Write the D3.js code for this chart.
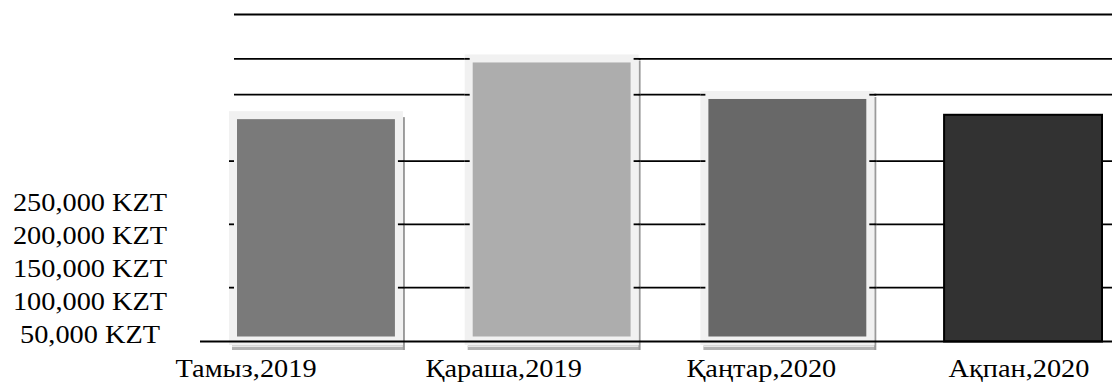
<!DOCTYPE html>
<html>
<head>
<meta charset="utf-8">
<script src="https://cdn.jsdelivr.net/npm/d3@7/dist/d3.min.js"></script>
<style>
  html, body { margin: 0; padding: 0; background: #fff; }
  svg { display: block; }
  text { font-family: "Liberation Serif", "Times New Roman", serif; fill: #000; }
</style>
</head>
<body>
<svg id="chart" width="1112" height="385"></svg>
<script>
// ---- data ----
const categories = ["Тамыз,2019", "Қараша,2019", "Қаңтар,2020", "Ақпан,2020"];
const values = [204000, 256000, 222500, 208000];
const tickLabels = ["250,000 KZT", "200,000 KZT", "150,000 KZT", "100,000 KZT", "50,000 KZT"];
const gridValues = [49400, 107500, 165500, 226400, 259300, 300000];

// ---- style ----
const fills = ["#7a7a7a", "#adadad", "#686868", "#323232"];
const framed = [true, true, true, false];
const W = 1112, H = 385;
const svg = d3.select("#chart");

const y = d3.scaleLinear().domain([0, 300000]).range([341.5, 14.5]);
const xBar = d3.scaleBand().domain(categories).range([237, 1102]).paddingInner(0.33).paddingOuter(0);
const xLab = d3.scalePoint().domain(categories).range([246, 1019]);
const yLab = d3.scalePoint().domain(tickLabels).range([211, 343]);

const lineW = 1.8;

// gridlines
svg.append("g").selectAll("line").data(gridValues).join("line")
  .attr("x1", 234).attr("x2", W)
  .attr("y1", d => y(d)).attr("y2", d => y(d))
  .attr("stroke", "#000").attr("stroke-width", lineW);

const bars = categories.map((c, i) => ({c, v: values[i], i}));
const gBars = svg.append("g");
const fpad = 8;

bars.forEach(b => {
  const x0 = xBar(b.c), bw = xBar.bandwidth();
  const top = y(b.v);
  const base = y(0);
  if (framed[b.i]) {
    const fx = x0 - fpad, fw = bw + 2 * fpad, fy = top - fpad, fb = base + 3.5;
    // shadow bottom band
    gBars.append("rect").attr("x", fx + 3).attr("y", fb + 0.5).attr("width", fw - 2).attr("height", 4.5)
      .attr("fill", "#b2b2b2");
    gBars.append("line").attr("x1", fx + 3).attr("x2", fx + fw).attr("y1", fb + 1.5).attr("y2", fb + 1.5)
      .attr("stroke", "#e6e6e6").attr("stroke-width", 1);
    // shadow right
    gBars.append("rect").attr("x", fx + fw).attr("y", fy + 6).attr("width", 2).attr("height", fb + 5 - (fy + 6))
      .attr("fill", "#9a9a9a");
    // frame
    gBars.append("rect").attr("x", fx).attr("y", fy).attr("width", fw).attr("height", fb - fy)
      .attr("fill", "#f1f1f1");
    // gridline stubs crossing frame edges
    gridValues.filter(g => y(g) > fy && y(g) < fb).forEach(g => {
      gBars.append("line").attr("x1", fx).attr("x2", x0 - 3).attr("y1", y(g)).attr("y2", y(g))
        .attr("stroke", "#000").attr("stroke-width", lineW);
      gBars.append("line").attr("x1", x0 + bw + 3).attr("x2", fx + fw + 2).attr("y1", y(g)).attr("y2", y(g))
        .attr("stroke", "#000").attr("stroke-width", lineW);
    });
    gBars.append("rect").attr("x", x0).attr("y", top).attr("width", bw).attr("height", base - 5 - top)
      .attr("fill", fills[b.i]);
  } else {
    gBars.append("rect").attr("x", x0).attr("y", top).attr("width", bw).attr("height", base - top)
      .attr("fill", fills[b.i]).attr("stroke", "#000").attr("stroke-width", 2);
  }
});

// baseline
svg.append("line").attr("x1", 200).attr("x2", W).attr("y1", y(0)).attr("y2", y(0))
  .attr("stroke", "#000").attr("stroke-width", lineW);

// y labels (stacked)
svg.append("g").selectAll("text").data(tickLabels).join("text")
  .attr("transform", d => `translate(90,${yLab(d)}) scale(1.09,1)`)
  .attr("text-anchor", "middle")
  .style("font-size", "26px")
  .text(d => d);

// x labels
svg.append("g").selectAll("text").data(categories).join("text")
  .attr("transform", d => `translate(${xLab(d)},377) scale(1.09,1)`)
  .attr("text-anchor", "middle")
  .style("font-size", "26px")
  .text(d => d);
</script>
</body>
</html>
